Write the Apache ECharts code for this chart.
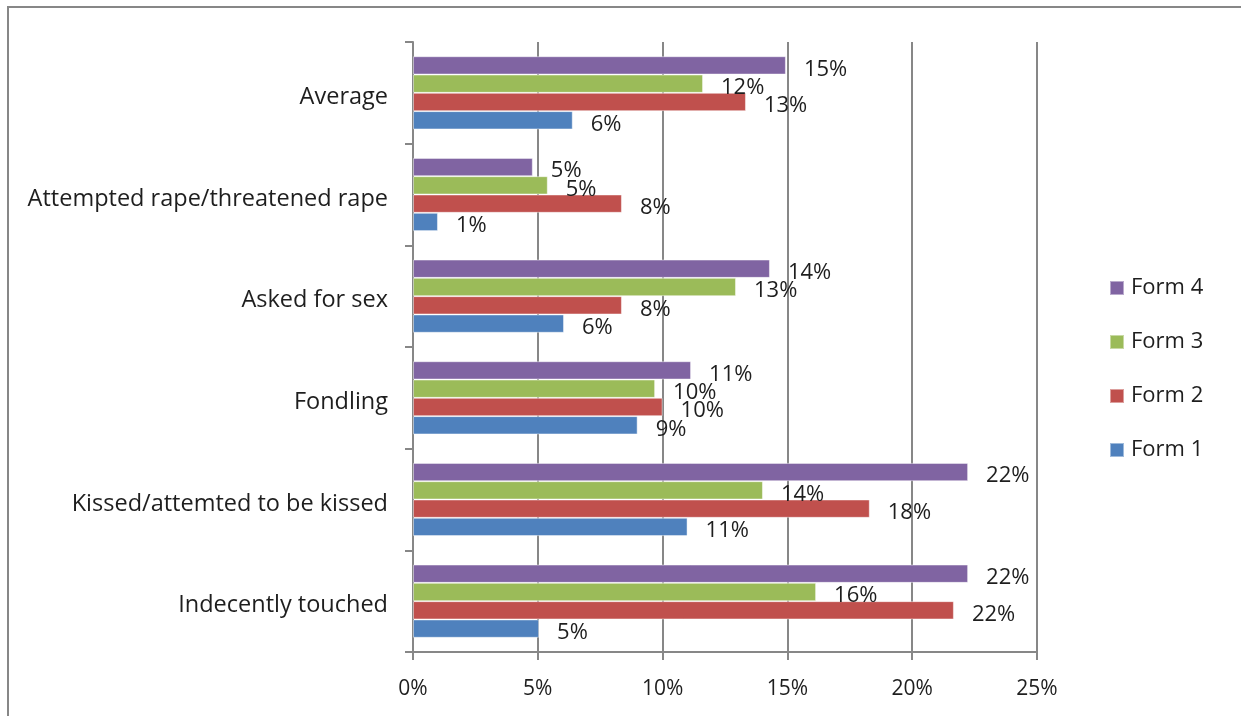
<!DOCTYPE html>
<html>
<head>
<meta charset="utf-8">
<script src="https://cdn.jsdelivr.net/npm/echarts@6/dist/echarts.min.js"></script>
<style>
  html, body { margin: 0; padding: 0; background: #fff; }
  #chart { width: 1241px; height: 716px; }
</style>
</head>
<body>
<div id="chart"></div>
<script>
// Categories listed bottom to top (category axis starts at the bottom)
const categories = [
  'Indecently touched',
  'Kissed/attemted to be kissed',
  'Fondling',
  'Asked for sex',
  'Attempted rape/threatened rape',
  'Average'
];
const form1 = [5.05, 11.0, 9.0, 6.05, 1.0, 6.4];
const form2 = [21.67, 18.3, 10.0, 8.37, 8.37, 13.34];
const form3 = [16.15, 14.02, 9.7, 12.94, 5.4, 11.62];
const form4 = [22.24, 22.24, 11.14, 14.3, 4.8, 14.94];
const xTicks = [0, 5, 10, 15, 20, 25];

// Within each group the first series is drawn at the top, so Form 4 leads
const seriesNames = ['Form 4', 'Form 3', 'Form 2', 'Form 1'];
const values = [form4, form3, form2, form1];
const colors = ['#8064A2', '#9BBB59', '#C0504D', '#4F81BD'];
const FONT = 'Open Sans';
const INK = '#1e1e1e';

const chart = echarts.init(document.getElementById('chart'));

const series = seriesNames.map((name, i) => ({
  name: name,
  type: 'bar',
  data: values[i],
  barGap: '0%',
  barCategoryGap: '28%',
  itemStyle: { color: colors[i], borderColor: 'rgba(255,255,255,0.45)', borderWidth: 1 },
  label: {
    show: true,
    position: 'right',
    distance: 18,
    offset: [0, 4],
    color: INK,
    fontFamily: FONT,
    fontSize: 22,
    formatter: p => Math.round(p.value) + '%'
  },
  emphasis: { disabled: true }
}));

chart.setOption({
  animation: false,
  color: colors,
  textStyle: { fontFamily: FONT },
  graphic: [{
    type: 'polyline',
    shape: { points: [[8, 740], [8, 7], [1260, 7]] },
    style: { stroke: '#878787', lineWidth: 2, fill: null }
  }],
  grid: { left: 413, right: 204, top: 42, bottom: 64 },
  legend: {
    orient: 'vertical',
    left: 1104,
    top: 272,
    itemWidth: 14,
    itemHeight: 14,
    itemGap: 32,
    icon: 'rect',
    data: ['Form 4', 'Form 3', 'Form 2', 'Form 1'],
    textStyle: { fontFamily: FONT, fontSize: 22, color: INK, padding: [0, 0, 0, 2] }
  },
  xAxis: {
    type: 'value',
    min: xTicks[0],
    max: xTicks[xTicks.length - 1],
    interval: 5,
    axisLine: { show: true, lineStyle: { color: '#878787', width: 2 } },
    axisTick: { show: true, length: 8, lineStyle: { color: '#878787', width: 2 } },
    splitLine: { show: true, lineStyle: { color: '#878787', width: 2 } },
    axisLabel: {
      margin: 27,
      color: INK,
      fontFamily: FONT,
      fontSize: 21,
      formatter: '{value}%'
    }
  },
  yAxis: {
    type: 'category',
    data: categories,
    axisLine: { show: true, lineStyle: { color: '#878787', width: 2 } },
    axisTick: { show: true, length: 8, lineStyle: { color: '#878787', width: 2 } },
    splitLine: { show: false },
    axisLabel: {
      margin: 25,
      formatter: v => '{c|' + v + '}',
      rich: {
        c: {
          color: INK,
          fontFamily: FONT,
          fontSize: 23.5,
          padding: [9, 0, 0, 0]
        }
      }
    }
  },
  series: series
});
</script>
</body>
</html>
